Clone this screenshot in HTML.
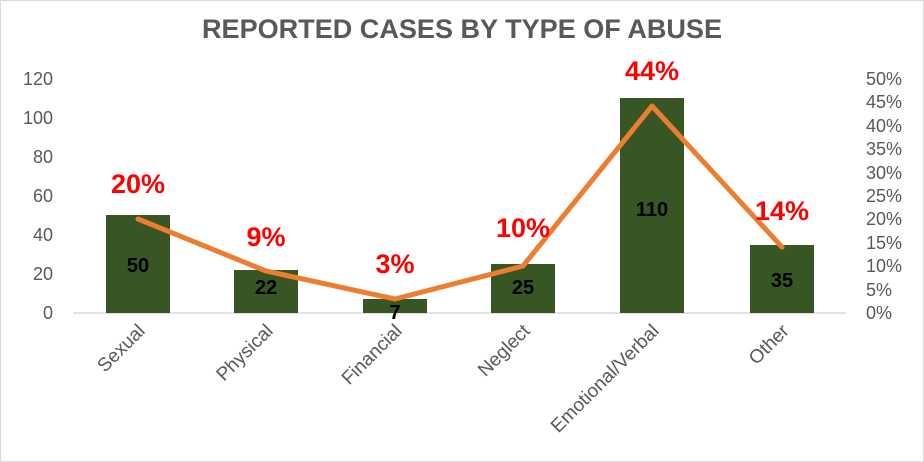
<!DOCTYPE html>
<html><head><meta charset="utf-8"><style>
html,body{margin:0;padding:0;background:#fff;}
svg{display:block;font-family:"Liberation Sans",sans-serif;}
</style></head><body>
<svg width="924" height="462" viewBox="0 0 924 462">
<rect x="0.5" y="0.5" width="923" height="461" fill="#fff" stroke="#d9d9d9"/>
<text x="462" y="38" text-anchor="middle" font-size="27" font-weight="bold" fill="#595959" textLength="520" lengthAdjust="spacingAndGlyphs">REPORTED CASES BY TYPE OF ABUSE</text>
<g font-size="18" fill="#595959" text-anchor="end">
<text x="53" y="319">0</text><text x="53" y="280">20</text><text x="53" y="241">40</text>
<text x="53" y="202">60</text><text x="53" y="163">80</text><text x="53" y="124">100</text><text x="53" y="85">120</text>
</g>
<g font-size="18" fill="#595959" text-anchor="start">
<text x="866" y="319">0%</text><text x="866" y="296">5%</text><text x="866" y="272">10%</text>
<text x="866" y="249">15%</text><text x="866" y="225">20%</text><text x="866" y="202">25%</text>
<text x="866" y="179">30%</text><text x="866" y="155">35%</text><text x="866" y="132">40%</text>
<text x="866" y="108">45%</text><text x="866" y="85">50%</text>
</g>
<line x1="73" y1="313" x2="846" y2="313" stroke="#d9d9d9" stroke-width="1.5"/>
<g fill="#375623">
<rect x="106" y="215" width="64" height="98"/>
<rect x="234" y="270" width="64" height="43"/>
<rect x="363" y="299" width="64" height="14"/>
<rect x="491" y="264" width="64" height="49"/>
<rect x="620" y="98" width="64" height="215"/>
<rect x="750" y="245" width="64" height="68"/>
</g>
<g font-size="20" font-weight="bold" fill="#000" text-anchor="middle">
<text x="138" y="272">50</text><text x="266" y="294">22</text><text x="395" y="319">7</text>
<text x="523" y="294">25</text><text x="652" y="216">110</text><text x="782" y="287">35</text>
</g>
<polyline points="138,219 266,271 395,299 523,266 652,106 782,247" fill="none" stroke="#ed7d31" stroke-width="5" stroke-linejoin="round" stroke-linecap="round"/>
<g font-size="27" font-weight="bold" fill="#ff0000" text-anchor="middle">
<text x="138" y="193">20%</text><text x="266" y="246">9%</text><text x="395" y="273">3%</text>
<text x="523" y="237">10%</text><text x="652" y="80">44%</text><text x="782" y="220">14%</text>
</g>
<g font-size="19" fill="#595959" text-anchor="end">
<text transform="translate(146,332) rotate(-45)">Sexual</text>
<text transform="translate(274,332) rotate(-45)">Physical</text>
<text transform="translate(403,332) rotate(-45)">Financial</text>
<text transform="translate(531,332) rotate(-45)">Neglect</text>
<text transform="translate(660,332) rotate(-45)">Emotional/Verbal</text>
<text transform="translate(790,332) rotate(-45)">Other</text>
</g>
</svg>
</body></html>
